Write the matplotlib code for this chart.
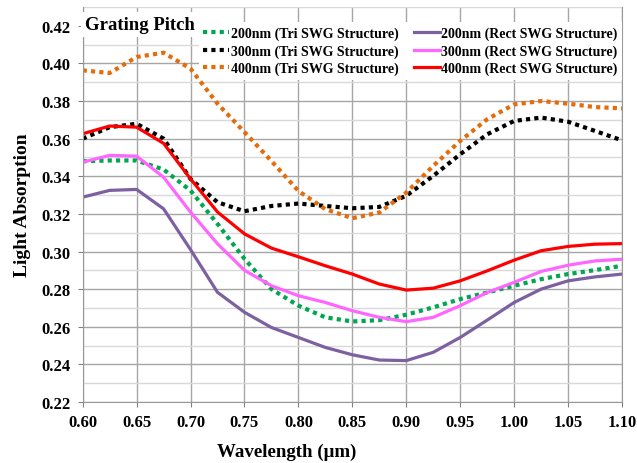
import numpy as np
import matplotlib
matplotlib.use('Agg')
import matplotlib.pyplot as plt
from matplotlib.ticker import MultipleLocator

plt.rcParams['font.family'] = ['Liberation Serif', 'DejaVu Serif']
plt.rcParams['font.weight'] = 'bold'

# wavelength (um)
wavelength = [0.600, 0.625, 0.650, 0.675, 0.700, 0.725, 0.750, 0.775, 0.800, 0.825, 0.850,
              0.875, 0.900, 0.925, 0.950, 0.975, 1.000, 1.025, 1.050, 1.075, 1.100]

# triangular SWG structure
tri_200 = [0.3480, 0.3484, 0.3484, 0.3436, 0.3324, 0.3147, 0.2961, 0.2800, 0.2712, 0.2650, 0.2628,
           0.2635, 0.2664, 0.2703, 0.2747, 0.2782, 0.2818, 0.2853, 0.2880, 0.2901, 0.2924]
tri_300 = [0.3600, 0.3661, 0.3679, 0.3600, 0.3386, 0.3262, 0.3214, 0.3242, 0.3255, 0.3242, 0.3230,
           0.3237, 0.3296, 0.3402, 0.3517, 0.3623, 0.3694, 0.3712, 0.3690, 0.3641, 0.3591]
tri_400 = [0.3963, 0.3949, 0.4034, 0.4057, 0.3972, 0.3786, 0.3635, 0.3481, 0.3322, 0.3225, 0.3177,
           0.3207, 0.3313, 0.3455, 0.3588, 0.3703, 0.3782, 0.3800, 0.3786, 0.3768, 0.3761]

# rectangular SWG structure
rect_200 = [0.3289, 0.3325, 0.3330, 0.3227, 0.3010, 0.2783, 0.2677, 0.2596, 0.2543, 0.2490, 0.2451,
            0.2423, 0.2420, 0.2464, 0.2543, 0.2635, 0.2729, 0.2800, 0.2844, 0.2865, 0.2880]
rect_300 = [0.3475, 0.3511, 0.3507, 0.3395, 0.3209, 0.3041, 0.2900, 0.2818, 0.2765, 0.2729, 0.2685,
            0.2650, 0.2627, 0.2650, 0.2712, 0.2782, 0.2836, 0.2894, 0.2927, 0.2950, 0.2959]
rect_400 = [0.3626, 0.3667, 0.3661, 0.3575, 0.3386, 0.3210, 0.3094, 0.3018, 0.2972, 0.2924, 0.2880,
            0.2827, 0.2795, 0.2805, 0.2844, 0.2897, 0.2954, 0.3004, 0.3027, 0.3039, 0.3042]

fig = plt.figure(figsize=(6.37, 4.64), dpi=100)
ax = fig.add_axes([0.1298, 0.1315, 0.8466, 0.8513])

dot = (0, (1, 1))
ax.plot(wavelength, tri_200, color='#00a650', lw=3, linestyle=dot, label='200nm (Tri SWG Structure)')
ax.plot(wavelength, tri_300, color='black', lw=3, linestyle=dot, label='300nm (Tri SWG Structure)')
ax.plot(wavelength, tri_400, color='#e46c0a', lw=3, linestyle=dot, label='400nm (Tri SWG Structure)')
ax.plot(wavelength, rect_200, color='#7d60a0', lw=2.3, label='200nm (Rect SWG Structure)')
ax.plot(wavelength, rect_300, color='#ff66ff', lw=2.3, label='300nm (Rect SWG Structure)')
ax.plot(wavelength, rect_400, color='#ff0000', lw=2.3, label='400nm (Rect SWG Structure)')

ax.set_xlim(0.60, 1.10)
ax.set_ylim(0.22, 0.43)
ax.xaxis.set_major_locator(MultipleLocator(0.05))
ax.yaxis.set_minor_locator(MultipleLocator(0.01))
ax.set_yticks([0.22, 0.24, 0.26, 0.28, 0.30, 0.32, 0.34, 0.36, 0.38, 0.40, 0.42])
ax.xaxis.set_major_formatter(plt.FormatStrFormatter('%.2f'))
ax.yaxis.set_major_formatter(plt.FormatStrFormatter('%.2f'))

ax.grid(True, which='major', color='#a6a6a6', lw=1)
ax.grid(True, which='minor', axis='y', color='#d9d9d9', lw=1)
ax.set_axisbelow(True)
ax.tick_params(which='major', direction='out', length=3.6, color='#808080', labelsize=12)
ax.tick_params(which='minor', length=0)
ax.tick_params(axis='y', pad=5)
ax.tick_params(axis='x', pad=5)
for s in ['left', 'bottom', 'right']:
    ax.spines[s].set_color('#999999')
ax.spines['top'].set_visible(False)

ax.set_xlabel('Wavelength (\u03bcm)', fontsize=13.6, fontweight='bold')
ax.xaxis.set_label_coords(0.379, -0.124)
ax.xaxis.label.set_verticalalignment('center')
ax.set_ylabel('Light Absorption', fontsize=14, fontweight='bold')
ax.yaxis.set_label_coords(-0.112, 0.5)
ax.yaxis.label.set_verticalalignment('center')

# title block of the legend
ax.text(0.005, 0.955, 'Grating Pitch', transform=ax.transAxes, fontsize=13.5, fontweight='bold',
        va='center', ha='left', bbox=dict(facecolor='white', edgecolor='none', pad=3), zorder=7)

leg = ax.legend(ncol=2, loc='upper right', bbox_to_anchor=(1.0, 0.962), fontsize=10,
                frameon=True, fancybox=False, framealpha=1, edgecolor='none',
                handlelength=1.9, handletextpad=0.1, columnspacing=1.1, labelspacing=0.32,
                borderpad=0.3, borderaxespad=0)
leg.set_zorder(6)

fig.savefig('out.png', dpi=100)
